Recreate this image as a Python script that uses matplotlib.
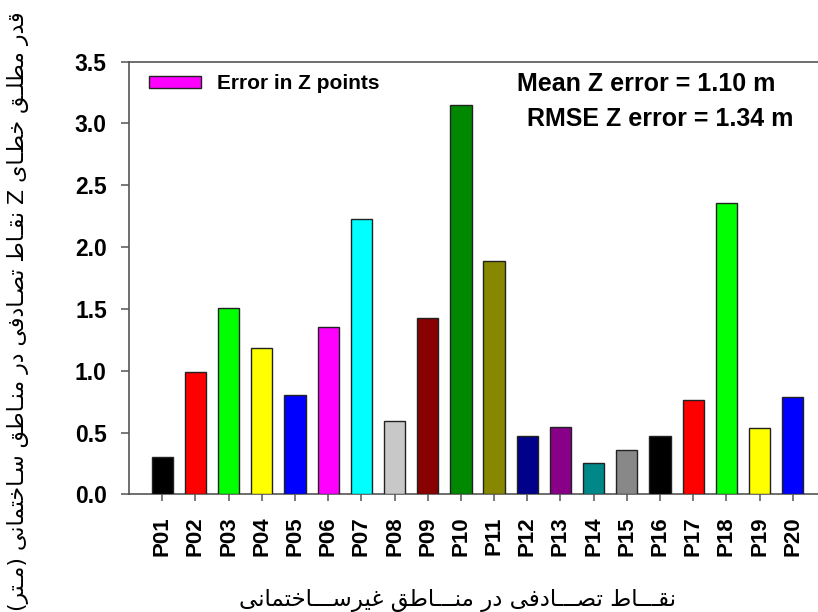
import matplotlib
matplotlib.use("Agg")
import matplotlib.pyplot as plt
from matplotlib.patches import Patch
from matplotlib.font_manager import FontProperties

# ---------------- data ----------------
points = ["P01", "P02", "P03", "P04", "P05", "P06", "P07", "P08", "P09", "P10",
          "P11", "P12", "P13", "P14", "P15", "P16", "P17", "P18", "P19", "P20"]
z_error = [0.30, 0.99, 1.51, 1.18, 0.80, 1.35, 2.23, 0.59, 1.43, 3.15,
           1.89, 0.47, 0.545, 0.25, 0.36, 0.47, 0.76, 2.36, 0.54, 0.79]
bar_colors = ["#000000", "#FF0000", "#00FF00", "#FFFF00", "#0000FF", "#FF00FF",
              "#00FFFF", "#C8C8C8", "#880000", "#008800", "#888800", "#000088",
              "#880088", "#008888", "#888888", "#000000", "#FF0000", "#00FF00",
              "#FFFF00", "#0000FF"]
y_ticks = [0.0, 0.5, 1.0, 1.5, 2.0, 2.5, 3.0, 3.5]
legend_label = "Error in Z points"
mean_text = "Mean Z error = 1.10 m"
rmse_text = "RMSE Z error = 1.34 m"
ylabel_fa = "قدر مطلـق خطـای Z نقـاط تصـادفی در منـاطق سـاختمانی (مـتر)"
xlabel_fa = "نقـــاط تصـــادفی در منـــاطق غیرســـاختمانی"

# ------------- minimal Arabic/Persian shaping (presentation forms) -------------
FORMS = {
    '\u0627': ('\uFE8D', '\uFE8E', None, None),
    '\u0628': ('\uFE8F', '\uFE90', '\uFE91', '\uFE92'),
    '\u067E': ('\uFB56', '\uFB57', '\uFB58', '\uFB59'),
    '\u062A': ('\uFE95', '\uFE96', '\uFE97', '\uFE98'),
    '\u062B': ('\uFE99', '\uFE9A', '\uFE9B', '\uFE9C'),
    '\u062C': ('\uFE9D', '\uFE9E', '\uFE9F', '\uFEA0'),
    '\u0686': ('\uFB7A', '\uFB7B', '\uFB7C', '\uFB7D'),
    '\u062D': ('\uFEA1', '\uFEA2', '\uFEA3', '\uFEA4'),
    '\u062E': ('\uFEA5', '\uFEA6', '\uFEA7', '\uFEA8'),
    '\u062F': ('\uFEA9', '\uFEAA', None, None),
    '\u0630': ('\uFEAB', '\uFEAC', None, None),
    '\u0631': ('\uFEAD', '\uFEAE', None, None),
    '\u0632': ('\uFEAF', '\uFEB0', None, None),
    '\u0698': ('\uFB8A', '\uFB8B', None, None),
    '\u0633': ('\uFEB1', '\uFEB2', '\uFEB3', '\uFEB4'),
    '\u0634': ('\uFEB5', '\uFEB6', '\uFEB7', '\uFEB8'),
    '\u0635': ('\uFEB9', '\uFEBA', '\uFEBB', '\uFEBC'),
    '\u0636': ('\uFEBD', '\uFEBE', '\uFEBF', '\uFEC0'),
    '\u0637': ('\uFEC1', '\uFEC2', '\uFEC3', '\uFEC4'),
    '\u0638': ('\uFEC5', '\uFEC6', '\uFEC7', '\uFEC8'),
    '\u0639': ('\uFEC9', '\uFECA', '\uFECB', '\uFECC'),
    '\u063A': ('\uFECD', '\uFECE', '\uFECF', '\uFED0'),
    '\u0641': ('\uFED1', '\uFED2', '\uFED3', '\uFED4'),
    '\u0642': ('\uFED5', '\uFED6', '\uFED7', '\uFED8'),
    '\u06A9': ('\uFB8E', '\uFB8F', '\uFB90', '\uFB91'),
    '\u06AF': ('\uFB92', '\uFB93', '\uFB94', '\uFB95'),
    '\u0644': ('\uFEDD', '\uFEDE', '\uFEDF', '\uFEE0'),
    '\u0645': ('\uFEE1', '\uFEE2', '\uFEE3', '\uFEE4'),
    '\u0646': ('\uFEE5', '\uFEE6', '\uFEE7', '\uFEE8'),
    '\u0647': ('\uFEE9', '\uFEEA', '\uFEEB', '\uFEEC'),
    '\u0648': ('\uFEED', '\uFEEE', None, None),
    '\u06CC': ('\uFBFC', '\uFBFD', '\uFBFE', '\uFBFF'),
    '\u064A': ('\uFEF1', '\uFEF2', '\uFEF3', '\uFEF4'),
    '\u0640': ('\u0640', '\u0640', '\u0640', '\u0640'),
}
MIRROR = {'(': ')', ')': '('}


def rtl(text):
    out = []
    n = len(text)
    for i, c in enumerate(text):
        if c not in FORMS:
            out.append(MIRROR.get(c, c))
            continue
        prev = text[i - 1] if i > 0 else ''
        nxt = text[i + 1] if i < n - 1 else ''
        cp = prev in FORMS and FORMS[prev][2] is not None
        cn = FORMS[c][2] is not None and nxt in FORMS
        iso, fin, ini, med = FORMS[c]
        if cp and cn:
            out.append(med)
        elif cp:
            out.append(fin)
        elif cn:
            out.append(ini)
        else:
            out.append(iso)
    return ''.join(reversed(out))


# ---------------- figure ----------------
W, H = 818, 612
fig = plt.figure(figsize=(W / 100, H / 100), dpi=100)
fig.patch.set_facecolor("white")

ax_left, ax_right_px = 129, 826
ax_top, ax_bot = 61.7, 494.3
ax = fig.add_axes([ax_left / W, (H - ax_bot) / H,
                   (ax_right_px - ax_left) / W, (ax_bot - ax_top) / H])

x = list(range(1, len(points) + 1))
ax.bar(x, z_error, width=0.64, color=bar_colors, edgecolor="#222222",
       linewidth=1.0, zorder=3)

ax.set_xlim(0, 21)
ax.set_ylim(0, 3.5)
ax.set_yticks(y_ticks)
ax.set_yticklabels([f"{v:.1f}" for v in y_ticks])
ax.set_xticks(x)
ax.set_xticklabels(points, rotation=90)

bold = dict(family="Liberation Sans", weight="bold")
for lab in ax.get_yticklabels():
    lab.set_fontproperties(FontProperties(size=16.5, **bold))
for lab in ax.get_xticklabels():
    lab.set_fontproperties(FontProperties(size=16, **bold))
    lab.set_verticalalignment("top")

spine_col = "#555555"
for s in ["left", "bottom", "top", "right"]:
    ax.spines[s].set_color(spine_col)
    ax.spines[s].set_linewidth(1.2)
ax.tick_params(axis="y", direction="out", length=6, width=1.1, color=spine_col, pad=10)
ax.tick_params(axis="x", direction="out", length=5, width=1.1, color=spine_col, pad=11)

# legend
handle = Patch(facecolor="#FF00FF", edgecolor="#222222", linewidth=1.0)
leg = ax.legend([handle], [legend_label], loc="center left",
                bbox_to_anchor=(148.7 / W, 1 - 83.5 / H), bbox_transform=fig.transFigure,
                frameon=False, borderpad=0, borderaxespad=0,
                handlelength=2.5, handleheight=0.5, handletextpad=0.8,
                prop=dict(size=15, **bold))

# statistics text
fig.text(646 / W, 1 - 84 / H, mean_text, ha="center", va="center",
         fontsize=18, **bold)
fig.text(660 / W, 1 - 119 / H, rmse_text, ha="center", va="center",
         fontsize=18, **bold)

# Persian axis titles
fig.text(18 / W, 1 - 311 / H, rtl(ylabel_fa), rotation=90, ha="center", va="center",
         fontsize=15.8, family="DejaVu Sans")
fig.text(457 / W, 1 - 600 / H, rtl(xlabel_fa), ha="center", va="center",
         fontsize=16.5, family="DejaVu Sans")

fig.savefig("out.png", dpi=100, facecolor="white")
